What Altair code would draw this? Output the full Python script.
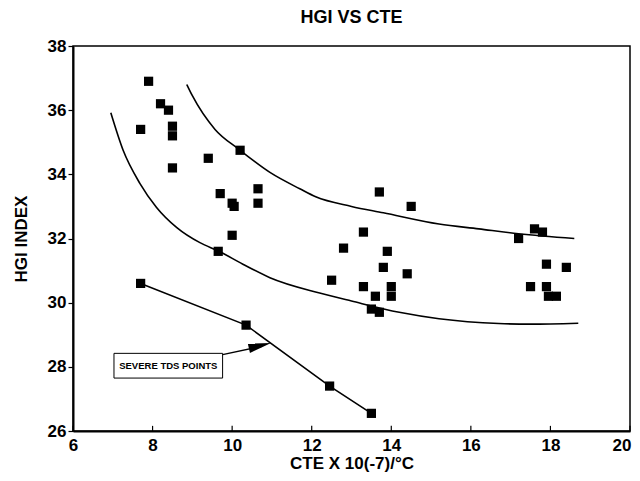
import altair as alt
import pandas as pd

# Main scatter points (CTE, HGI)
pts_x = [7.7, 7.9, 8.2, 8.4, 8.5, 8.5, 8.5, 9.4, 10.2, 9.7, 10.0, 10.05, 10.65, 10.65,
         10.0, 9.65, 13.7, 14.5, 13.3, 12.8, 13.9, 13.8, 14.4, 12.5, 13.3, 14.0,
         13.6, 14.0, 13.5, 13.7, 17.2, 17.6, 17.8, 17.9, 18.4, 17.5, 17.9, 17.95, 18.15]
pts_y = [35.4, 36.9, 36.2, 36.0, 35.5, 35.2, 34.2, 34.5, 34.75, 33.4, 33.1, 33.0, 33.55, 33.1,
         32.1, 31.6, 33.45, 33.0, 32.2, 31.7, 31.6, 31.1, 30.9, 30.7, 30.5, 30.5,
         30.2, 30.2, 29.8, 29.7, 32.0, 32.3, 32.2, 31.2, 31.1, 30.5, 30.5, 30.2, 30.2]

# Severe TDS points
tds_x = [7.7, 10.35, 12.45, 13.5]
tds_y = [30.6, 29.3, 27.4, 26.55]

# Envelope curves
upper_x = [8.86, 9.0, 9.57, 10.17, 10.95, 11.7, 12.1, 13.0, 13.8, 15.2, 16.2, 17.2, 18.6]
upper_y = [36.8, 36.45, 35.4, 34.78, 34.06, 33.55, 33.3, 33.0, 32.8, 32.45, 32.3, 32.15, 32.0]
lower_x = [6.95, 7.26, 7.68, 8.1, 8.61, 9.19, 9.67, 10.27, 10.95, 12.2, 13.0, 14.2, 15.2, 16.7, 17.5, 18.7]
lower_y = [35.92, 34.75, 33.72, 32.97, 32.34, 31.87, 31.6, 31.2, 30.78, 30.3, 30.05, 29.7, 29.5, 29.35, 29.33, 29.36]

# Annotation
label_text = "SEVERE TDS POINTS"
box_x, box_x2, box_y, box_y2 = 7.03, 9.76, 27.65, 28.42
arrow_x = [9.76, 10.75]
arrow_y = [28.38, 28.64]
head_x, head_y = 10.7, 28.66

x_ticks = [6, 8, 10, 12, 14, 16, 18, 20]
y_ticks = [26, 28, 30, 32, 34, 36, 38]

FONT = "Liberation Sans"

xs = alt.Scale(domain=[6, 20], nice=False)
ys = alt.Scale(domain=[26, 38], nice=False)

pts = pd.DataFrame({"x": pts_x, "y": pts_y})
tds = pd.DataFrame({"x": tds_x, "y": tds_y})
up = pd.DataFrame({"x": upper_x, "y": upper_y, "o": range(len(upper_x))})
lo = pd.DataFrame({"x": lower_x, "y": lower_y, "o": range(len(lower_x))})

xaxis = alt.Axis(values=x_ticks, grid=False, ticks=False, labelPadding=6, labelFlush=False,
                 labelAlign={"condition": {"test": "datum.value == 20", "value": "right"}, "value": "center"},
                 labelOffset={"condition": {"test": "datum.value == 20", "value": 1}, "value": 0},
                 title="CTE X 10(-7)/°C", titlePadding=2)
yaxis = alt.Axis(values=y_ticks, grid=False, tickSize=5, labelPadding=2, labelFlush=False,
                 title="HGI INDEX", titlePadding=17)

base_x = alt.X("x:Q", scale=xs, axis=xaxis)
base_y = alt.Y("y:Q", scale=ys, axis=yaxis)

scatter = alt.Chart(pts).mark_square(size=85, color="black", opacity=1).encode(x=base_x, y=base_y)

upper_line = alt.Chart(up).mark_line(color="black", strokeWidth=1.6, interpolate="monotone").encode(
    x="x:Q", y="y:Q", order="o:Q")
lower_line = alt.Chart(lo).mark_line(color="black", strokeWidth=1.6, interpolate="monotone").encode(
    x="x:Q", y="y:Q", order="o:Q")

tds_line = alt.Chart(tds).mark_line(color="black", strokeWidth=1.6).encode(x="x:Q", y="y:Q")
tds_pts = alt.Chart(tds).mark_square(size=85, color="black", opacity=1).encode(x="x:Q", y="y:Q")

box = alt.Chart(pd.DataFrame({"x": [box_x], "x2": [box_x2], "y": [box_y], "y2": [box_y2]})).mark_rect(
    fill="white", stroke="black", strokeWidth=1).encode(x="x:Q", x2="x2:Q", y="y:Q", y2="y2:Q")
box_text = alt.Chart(pd.DataFrame({"x": [(box_x + box_x2) / 2], "y": [(box_y + box_y2) / 2], "t": [label_text]})).mark_text(
    font=FONT, fontSize=9.5, fontWeight="bold", color="black").encode(x="x:Q", y="y:Q", text="t:N")

arrow = alt.Chart(pd.DataFrame({"x": arrow_x, "y": arrow_y})).mark_line(color="black", strokeWidth=1.4).encode(
    x="x:Q", y="y:Q")
head = alt.Chart(pd.DataFrame({"x": [head_x], "y": [head_y]})).mark_point(
    shape="M1,0L-1,-0.42L-1,0.42Z", size=520, filled=True, color="black", opacity=1, angle=347).encode(
    x="x:Q", y="y:Q")

xticks_df = pd.DataFrame({"x": x_ticks, "y": [26] * len(x_ticks), "y2": [26.16] * len(x_ticks)})
xtick_marks = alt.Chart(xticks_df).mark_rule(color="black", strokeWidth=1.2).encode(x="x:Q", y="y:Q", y2="y2:Q")

chart = alt.layer(scatter, upper_line, lower_line, tds_line, tds_pts, box, box_text, arrow, head, xtick_marks).properties(
    width=557, height=385,
    title=alt.TitleParams("HGI VS CTE", font=FONT, fontSize=18, fontWeight="bold", color="black", offset=10),
    autosize=alt.AutoSizeParams(type="none"),
    padding={"left": 65, "top": 38, "right": 2, "bottom": 42},
).configure_view(
    stroke="black", strokeWidth=1.5
).configure_axis(
    labelFont=FONT, labelFontSize=17, labelFontWeight="bold", labelColor="black",
    titleFont=FONT, titleFontSize=17, titleFontWeight="bold", titleColor="black",
    domainColor="black", domainWidth=2, tickColor="black", tickWidth=1.2,
)

chart.save("out.html", embed_options={"renderer": "svg", "actions": False})
